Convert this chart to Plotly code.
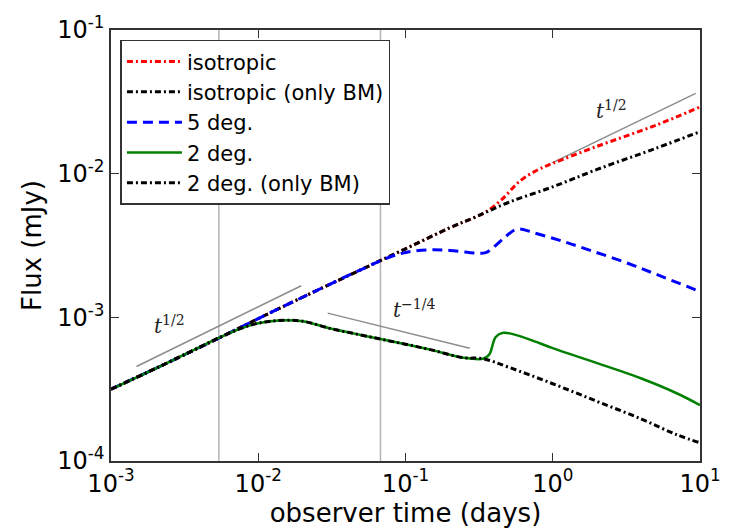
import math
import plotly.graph_objects as go

# ---- data ----
t_iso = [0.001, 0.002, 0.005, 0.01, 0.02, 0.05, 0.1, 0.2, 0.3, 0.35, 0.45, 0.6, 0.8, 1.0, 2.0, 5.0, 10.0]
f_iso = [3.16e-4, 4.4e-4, 6.9e-4, 9.8e-4, 1.38e-3, 2.15e-3, 3.0e-3, 4.2e-3, 5.0e-3, 5.4e-3, 6.6e-3, 8.9e-3, 1.07e-2, 1.18e-2, 1.55e-2, 2.17e-2, 2.91e-2]

t_iso_bm = [0.001, 0.002, 0.005, 0.01, 0.02, 0.05, 0.1, 0.2, 0.3, 0.5, 1.0, 2.0, 5.0, 10.0]
f_iso_bm = [3.16e-4, 4.4e-4, 6.9e-4, 9.8e-4, 1.38e-3, 2.15e-3, 3.0e-3, 4.2e-3, 5.0e-3, 6.3e-3, 8.1e-3, 1.07e-2, 1.5e-2, 1.96e-2]

t_5deg = [0.001, 0.002, 0.005, 0.01, 0.02, 0.05, 0.08, 0.11, 0.15, 0.2, 0.3, 0.35, 0.4, 0.48, 0.55, 0.6, 0.73, 1.16, 1.84, 3.08, 5.0, 10.0]
f_5deg = [3.16e-4, 4.4e-4, 6.9e-4, 9.8e-4, 1.38e-3, 2.15e-3, 2.65e-3, 2.88e-3, 2.95e-3, 2.92e-3, 2.8e-3, 2.82e-3, 3.1e-3, 3.66e-3, 4.05e-3, 4.12e-3, 3.9e-3, 3.39e-3, 2.9e-3, 2.42e-3, 2.0e-3, 1.51e-3]

t_2deg = [0.001, 0.002, 0.004, 0.0054, 0.0077, 0.01, 0.0137, 0.02, 0.031, 0.045, 0.0676, 0.1, 0.147, 0.246, 0.336, 0.37, 0.41, 0.46, 0.52, 0.7, 1.0, 2.0, 4.0, 7.0, 10.0]
f_2deg = [3.16e-4, 4.4e-4, 6.2e-4, 7.2e-4, 8.4e-4, 9.1e-4, 9.5e-4, 9.4e-4, 8.35e-4, 7.7e-4, 7.06e-4, 6.5e-4, 5.96e-4, 5.24e-4, 5.15e-4, 5.5e-4, 7.3e-4, 7.8e-4, 7.7e-4, 7.0e-4, 6.1e-4, 4.8e-4, 3.75e-4, 2.95e-4, 2.45e-4]

t_2deg_bm = [0.001, 0.002, 0.004, 0.0054, 0.0077, 0.01, 0.0137, 0.02, 0.031, 0.045, 0.0676, 0.1, 0.147, 0.246, 0.336, 0.5, 1.0, 2.0, 4.0, 7.0, 10.0]
f_2deg_bm = [3.16e-4, 4.4e-4, 6.2e-4, 7.2e-4, 8.4e-4, 9.1e-4, 9.5e-4, 9.4e-4, 8.35e-4, 7.7e-4, 7.06e-4, 6.5e-4, 5.96e-4, 5.24e-4, 5.15e-4, 4.5e-4, 3.45e-4, 2.6e-4, 1.96e-4, 1.52e-4, 1.34e-4]

# reference power-law guide segments
guide_t_half_lo = [1.49e-3, 0.0196]
guide_f_half_lo = [4.55e-4, 1.66e-3]
guide_t_quarter = [0.0296, 0.273]
guide_f_quarter = [1.07e-3, 6.1e-4]
guide_t_half_hi = [0.99, 9.35]
guide_f_half_hi = [0.0119, 0.0362]

vline_t = [0.0054, 0.0676]

x_ticks = [1e-3, 1e-2, 1e-1, 1e0, 1e1]
x_ticktext = ["10<sup>-3</sup>", "10<sup>-2</sup>", "10<sup>-1</sup>", "10<sup>0</sup>", "10<sup>1</sup>"]
y_ticks = [1e-4, 1e-3, 1e-2, 1e-1]
y_ticktext = ["10<sup>-4</sup>", "10<sup>-3</sup>", "10<sup>-2</sup>", "10<sup>-1</sup>"]

label_texts = ["<i>t</i><sup>1/2</sup>", "<i>t</i><sup>\u22121/4</sup>", "<i>t</i><sup>1/2</sup>"]
label_t = [2.5e-3, 0.1135, 2.51]
label_f = [8.8e-4, 1.14e-3, 0.0277]

# minor tick positions (2..9 x each decade)
x_minor = [m * 10.0 ** e for e in range(-3, 1) for m in range(2, 10)]
y_minor = [m * 10.0 ** e for e in range(-4, -1) for m in range(2, 10)]

fig = go.Figure()

for vt in vline_t:
    fig.add_trace(go.Scatter(x=[vt, vt], y=[1e-4, 1e-1], mode="lines",
                             line=dict(color="#b4b4b4", width=1.5), showlegend=False, hoverinfo="skip"))
GRAY = "#8c8c8c"
for gx, gy in [(guide_t_half_lo, guide_f_half_lo), (guide_t_quarter, guide_f_quarter), (guide_t_half_hi, guide_f_half_hi)]:
    fig.add_trace(go.Scatter(x=gx, y=gy, mode="lines", line=dict(color=GRAY, width=1.5),
                             showlegend=False, hoverinfo="skip"))

dashdot = "6px,3px,2px,3px"
series = [
    (t_iso, f_iso, "isotropic", dict(color="#ff0000", width=3, dash=dashdot)),
    (t_iso_bm, f_iso_bm, "isotropic (only BM)", dict(color="#000000", width=3, dash=dashdot)),
    (t_5deg, f_5deg, "5 deg.", dict(color="#0000ff", width=3, dash="10px,6px")),
    (t_2deg, f_2deg, "2 deg.", dict(color="#008000", width=2.5)),
    (t_2deg_bm, f_2deg_bm, "2 deg. (only BM)", dict(color="#000000", width=3, dash=dashdot)),
]
for i, (tx, fy, nm, ln) in enumerate(series):
    fig.add_trace(go.Scatter(x=tx, y=fy, mode="lines", name=nm, line_shape="spline", line=ln))

for txt, lx, ly in zip(label_texts, label_t, label_f):
    fig.add_annotation(x=math.log10(lx), y=math.log10(ly), xref="x", yref="y", text=txt, showarrow=False,
                       font=dict(family="DejaVu Serif", size=20, color="#222222"))

LC = "#333333"
axis_common = dict(type="log", showline=True, linecolor=LC, linewidth=1.5, mirror="ticks",
                   ticks="inside", ticklen=8, tickwidth=1, tickcolor=LC, showgrid=False,
                   zeroline=False, tickfont=dict(family="DejaVu Sans", size=24, color="black"))

fig.update_xaxes(range=[-3, 1], tickvals=x_ticks, ticktext=x_ticktext,
                 title=dict(text="observer time (days)", font=dict(family="DejaVu Sans", size=26, color="black"), standoff=0),
                 **axis_common)
fig.update_yaxes(range=[-4, -1], tickvals=y_ticks, ticktext=y_ticktext,
                 title=dict(text="Flux (mJy)", font=dict(family="DejaVu Sans", size=26, color="black"), standoff=8),
                 **axis_common)

minor_common = dict(type="log", showline=False, ticks="inside", ticklen=4, tickwidth=1, tickcolor=LC,
                    showgrid=False, zeroline=False, showticklabels=False)
fig.update_layout(
    xaxis2=dict(range=[-3, 1], tickvals=x_minor, overlaying="x", anchor="y", side="bottom", **minor_common),
    xaxis3=dict(range=[-3, 1], tickvals=x_minor, overlaying="x", anchor="y", side="top", **minor_common),
    yaxis2=dict(range=[-4, -1], tickvals=y_minor, overlaying="y", anchor="x", side="left", **minor_common),
    yaxis3=dict(range=[-4, -1], tickvals=y_minor, overlaying="y", anchor="x", side="right", **minor_common),
)

fig.update_layout(
    width=733, height=528,
    margin=dict(l=111, r=27, t=21, b=63),
    plot_bgcolor="white", paper_bgcolor="white",
    legend=dict(x=0.016, y=0.977, xanchor="left", yanchor="top",
                bgcolor="white", bordercolor=LC, borderwidth=1.5, itemwidth=55,
                font=dict(family="DejaVu Sans", size=21, color="black")),
)

fig.write_html("out.html")
